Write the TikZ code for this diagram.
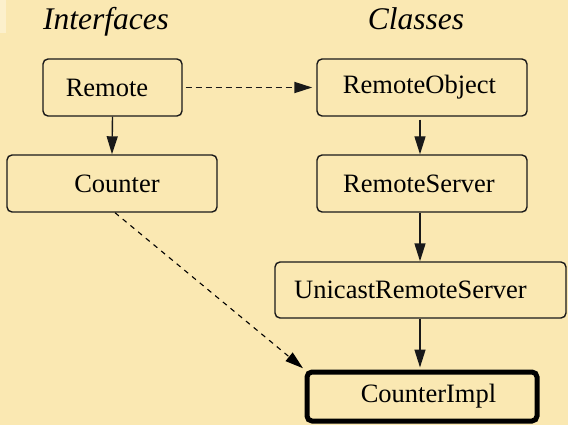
\documentclass[tikz,border=0pt]{standalone}
\usepackage{fontspec}
\setmainfont{Liberation Serif}
\usetikzlibrary{arrows.meta}
\definecolor{paper}{RGB}{250,232,178}
\definecolor{paperlight}{RGB}{252,240,204}
% text set off-centre inside its box by #1
\newcommand\offtext[2]{\kern#1\relax#2\kern-#1\relax}
\tikzset{
  box/.style={draw=black!90, line width=1.4pt, rounded corners=5pt,
    inner sep=0pt, font=\fontsize{26.5}{30}\selectfont},
  mainbox/.style={box, line width=5pt, draw=black},
  heading/.style={font=\fontsize{31.5}{34}\selectfont\itshape, inner sep=0pt},
  inherit/.style={line width=1.4pt, draw=black!90,
    -{Triangle[length=18pt,width=11pt]}},
  realize/.style={inherit, line width=1.8pt, dash pattern=on 6pt off 4pt},
  implem/.style={line width=1.1pt, draw=black,
    dash pattern=on 5pt off 5pt, -{Triangle[length=18pt,width=11pt]}}
}
\begin{document}
\begin{tikzpicture}[x=1pt,y=-1pt]
  % page
  \fill[paper] (0,0) rectangle (568,425);
  \useasboundingbox (0,0) rectangle (568,425);
  \fill[paperlight] (0,0) rectangle (6,33);

  % column headings
  \node[heading, anchor=base] (hif) at (106,30) {Interfaces};
  \node[heading, anchor=base] (hcl) at (416,30) {Classes};

  % boxes
  \node[box, minimum width=139pt, minimum height=57pt] (remote) at (112.5,87.5) {\offtext{-5.5pt}{Remote}};
  \node[box, minimum width=210pt, minimum height=57pt] (robj)   at (422,87.5)   {\offtext{-2.5pt}{RemoteObject}};
  \node[box, minimum width=210pt, minimum height=57pt] (counter) at (112,183.5) {\offtext{5pt}{Counter}};
  \node[box, minimum width=210pt, minimum height=57pt] (rsrv)   at (422,183.5)  {\offtext{-3pt}{RemoteServer}};
  \node[box, minimum width=291pt, minimum height=56pt] (ucast)  at (420.5,290)  {\offtext{-10pt}{UnicastRemoteServer}};
  \node[mainbox, minimum width=230pt, minimum height=49pt] (impl) at (422,396.5) {\offtext{6.5pt}{CounterImpl}};

  % connectors
  \draw[inherit] (remote.south) -- (counter.north);
  \draw[realize, shorten <=3pt, shorten >=4pt] (remote.east) -- (robj.west);
  \draw[inherit, shorten <=3pt] (robj.south -| 420,0) -- (rsrv.north -| 420,0);
  \draw[inherit] (rsrv.south -| 420,0) -- (ucast.north -| 420,0);
  \draw[inherit, shorten >=2pt] (ucast.south -| 420,0) -- (impl.north -| 420,0);
  \coordinate (cfoot) at ([xshift=3pt]counter.south);
  \draw[implem, shorten >=2pt] (cfoot) -- (impl.north west);
\end{tikzpicture}
\end{document}
